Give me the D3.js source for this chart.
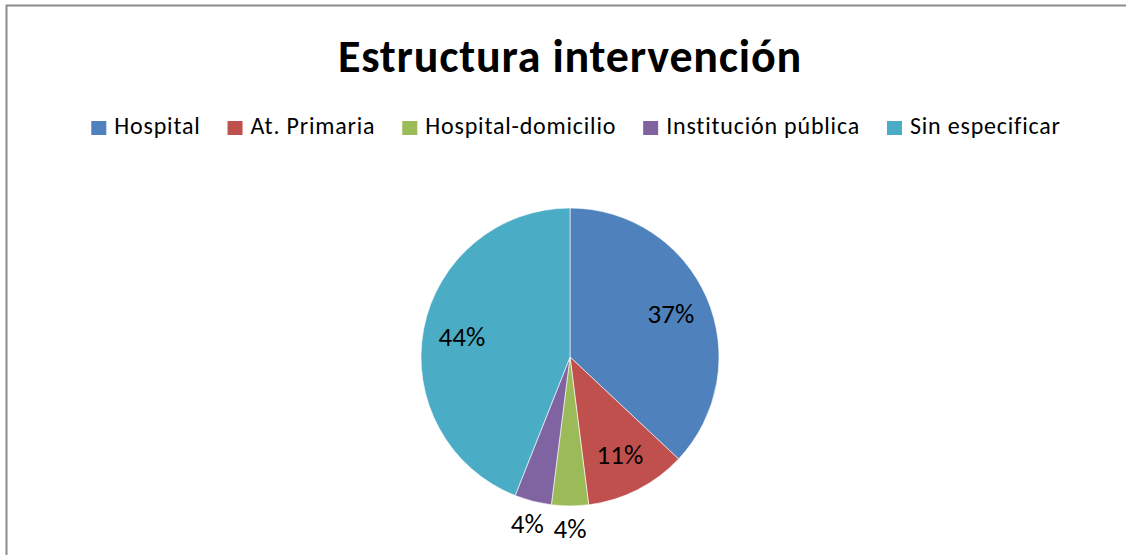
<!DOCTYPE html>
<html><head><meta charset="utf-8">
<script src="https://cdn.jsdelivr.net/npm/d3@7"></script>
<style>body{margin:0;background:#fff}svg{display:block}</style>
</head><body>
<script>
const categories = ["Hospital", "At. Primaria", "Hospital-domicilio", "Institución pública", "Sin especificar"];
const values = [37, 11, 4, 4, 44];
const colors = ["#4F81BD", "#C0504D", "#9BBB59", "#8064A2", "#4BACC6"];
const title = "Estructura intervención";

const W = 1126, H = 555;
const font = "Carlito, Calibri, Lato, sans-serif";
const svg = d3.select("body").append("svg").attr("width", W).attr("height", H);
svg.append("rect").attr("width", W).attr("height", H).attr("fill", "#fff");
// chart area border (top & left visible)
svg.append("path").attr("d", `M6.5,${H} V5.5 H${W}`).attr("fill", "none").attr("stroke", "#8c8c8c").attr("stroke-width", 2);

svg.append("text").attr("x", 570).attr("y", 72).attr("text-anchor", "middle")
  .attr("font-family", font).attr("font-weight", "bold").attr("font-size", 46)
  .attr("letter-spacing", 0.8).attr("fill", "#000").text(title);

// legend
const leg = svg.append("g");
let x = 0;
const gap = 27;
categories.forEach((c, i) => {
  const g = leg.append("g").attr("transform", `translate(${x},0)`);
  g.append("rect").attr("x", 0).attr("y", 121).attr("width", 15).attr("height", 14).attr("fill", colors[i]);
  const t = g.append("text").attr("x", 23).attr("y", 134).attr("font-family", font).attr("font-size", 24)
    .attr("letter-spacing", 0.8).attr("fill", "#000").text(c);
  x += 23 + t.node().getComputedTextLength() + gap;
});
const legW = x - gap;
leg.attr("transform", `translate(${(89 + 1063) / 2 - legW / 2},0)`);

// pie
const cx = 570, cy = 357, r = 149;
const pie = d3.pie().sort(null).value(d => d)(values);
const arc = d3.arc().innerRadius(0).outerRadius(r);
const g = svg.append("g").attr("transform", `translate(${cx},${cy})`);
g.selectAll("path").data(pie).join("path").attr("d", arc)
  .attr("fill", (d, i) => colors[i]).attr("stroke", "#fff").attr("stroke-width", 0.6);
const total = d3.sum(values);
g.selectAll("text").data(pie).join("text")
  .attr("transform", d => {
    const a = (d.startAngle + d.endAngle) / 2;
    const rr = d.value / total < 0.06 ? 172 : 110;
    return `translate(${Math.sin(a) * rr},${-Math.cos(a) * rr})`;
  })
  .attr("text-anchor", "middle").attr("dy", "0.35em")
  .attr("font-family", font).attr("font-size", 27).attr("fill", "#000")
  .text(d => Math.round(d.value / total * 100) + "%");
</script>
</body></html>
